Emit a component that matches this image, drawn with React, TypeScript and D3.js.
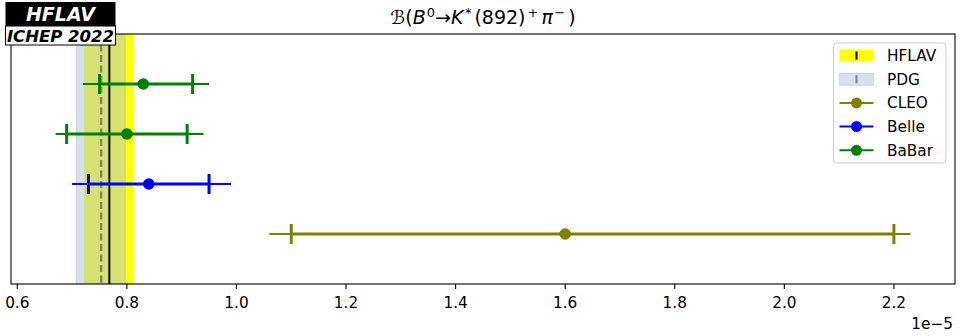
import React from 'react';
import * as d3 from 'd3';

// Measurements (units of 1e-5), rows from top
const experiments = ['BaBar', 'BaBar', 'Belle', 'CLEO'];
const values = [0.83, 0.80, 0.84, 1.60];
const statLo = [0.75, 0.69, 0.73, 1.10];
const statHi = [0.92, 0.91, 0.95, 2.20];
const totLo = [0.72, 0.67, 0.70, 1.06];
const totHi = [0.95, 0.94, 0.99, 2.23];

const hflav = { value: 0.768, lo: 0.722, hi: 0.812 };
const pdg = { value: 0.753, lo: 0.708, hi: 0.797 };

const xTicks = [0.6, 0.8, 1.0, 1.2, 1.4, 1.6, 1.8, 2.0, 2.2];
const legendLabels = ['HFLAV', 'PDG', 'CLEO', 'Belle', 'BaBar'];

const colorOf: Record<string, string> = {
  BaBar: '#008000',
  Belle: '#0000ff',
  CLEO: '#808000',
};

const W = 960;
const H = 336;
const L = 11, R = 955, T = 34, B = 284;
const FONT = '"DejaVu Sans", sans-serif';
const FS = 15.3;

export default function App() {
  const x = d3.scaleLinear().domain([0.5885, 2.3115]).range([L, R]);
  const y = d3.scaleLinear().domain([0, 5]).range([T, B]);

  const legendY = (i: number) => 55.5 + i * 23.7;
  const sup = 13;

  return (
    <svg width={W} height={H} style={{ position: 'absolute', left: 0, top: 0, background: '#fff' }} fontFamily={FONT}>
      <rect x={0} y={0} width={W} height={H} fill="#fff" />
      <defs>
        <clipPath id="plotclip">
          <rect x={L} y={T} width={R - L} height={B - T} />
        </clipPath>
      </defs>
      <g clipPath="url(#plotclip)">
        {/* HFLAV band */}
        <rect x={x(hflav.lo)} y={T} width={x(hflav.hi) - x(hflav.lo)} height={B - T} fill="#ffff00" />
        {/* PDG band */}
        <rect x={x(pdg.lo)} y={T} width={x(pdg.hi) - x(pdg.lo)} height={B - T} fill="rgb(176,196,222)" fillOpacity={0.5} stroke="rgb(176,196,222)" strokeOpacity={0.6} strokeWidth={1} />
        <line x1={x(hflav.value)} x2={x(hflav.value)} y1={T} y2={B} stroke="#000" strokeWidth={2} />
        <line x1={x(pdg.value)} x2={x(pdg.value)} y1={T} y2={B} stroke="#808080" strokeWidth={2.4} strokeDasharray="7,3.5" />
        {experiments.map((e, i) => {
          const c = colorOf[e];
          const yy = y(i + 1);
          return (
            <g key={i}>
              <line x1={x(totLo[i])} x2={x(totHi[i])} y1={yy} y2={yy} stroke={c} strokeWidth={2} />
              <line x1={x(statLo[i])} x2={x(statHi[i])} y1={yy} y2={yy} stroke={c} strokeWidth={3} />
              <line x1={x(statLo[i])} x2={x(statLo[i])} y1={yy - 10} y2={yy + 10} stroke={c} strokeWidth={3} />
              <line x1={x(statHi[i])} x2={x(statHi[i])} y1={yy - 10} y2={yy + 10} stroke={c} strokeWidth={3} />
              <circle cx={x(values[i])} cy={yy} r={5.8} fill={c} />
            </g>
          );
        })}
      </g>
      {/* frame */}
      <rect x={L} y={T} width={R - L} height={B - T} fill="none" stroke="#000" strokeWidth={1.1} />
      {/* x axis */}
      {xTicks.map((t) => (
        <g key={t}>
          <line x1={x(t)} x2={x(t)} y1={B} y2={B + 4.9} stroke="#000" strokeWidth={1.1} />
          <text x={x(t)} y={308} fontSize={FS} textAnchor="middle" fill="#000">
            {t.toFixed(1)}
          </text>
        </g>
      ))}
      <text x={953} y={329} fontSize={FS} textAnchor="end" fill="#000">1e−5</text>

      {/* title */}
      <text x={(L + R) / 2} y={24} fontSize={19} textAnchor="middle" fill="#000">
        <tspan>ℬ(</tspan>
        <tspan fontStyle="italic">B</tspan>
        <tspan fontSize={sup} dy={-7} dx={1}>0</tspan>
        <tspan dy={7}>→</tspan>
        <tspan fontStyle="italic">K</tspan>
        <tspan fontSize={sup} dy={-7} dx={1.5}>*</tspan>
        <tspan dy={7} dx={3}>(892)</tspan>
        <tspan fontSize={sup} dy={-7} dx={2}>+</tspan>
        <tspan fontStyle="italic" dy={7} dx={3}>π</tspan>
        <tspan fontSize={sup} dy={-7} dx={1.5}>−</tspan>
        <tspan dy={7} dx={3}>)</tspan>
      </text>

      {/* logo */}
      <rect x={5.5} y={2} width={110} height={24} fill="#000" />
      <text x={60.5} y={21} fontSize={19} fontWeight="bold" fontStyle="italic" fill="#fff" textAnchor="middle">HFLAV</text>
      <rect x={5.5} y={26} width={110} height={19} fill="#fff" stroke="#000" strokeWidth={1} />
      <text x={60.5} y={42} fontSize={16.5} fontWeight="bold" fontStyle="italic" fill="#000" textAnchor="middle">ICHEP 2022</text>

      {/* legend */}
      <rect x={833.5} y={43} width={112.5} height={120} rx={3} fill="#fff" fillOpacity={0.8} stroke="#cccccc" strokeWidth={1} />
      {legendLabels.map((lab, i) => {
        const ly = legendY(i);
        let handle;
        if (lab === 'HFLAV') {
          handle = (
            <g>
              <rect x={839.5} y={ly - 6} width={34} height={12} fill="#ffff00" />
              <line x1={856.5} x2={856.5} y1={ly - 4} y2={ly + 4} stroke="#000" strokeWidth={2} />
            </g>
          );
        } else if (lab === 'PDG') {
          handle = (
            <g>
              <rect x={839.5} y={ly - 6} width={34} height={12} fill="rgb(176,196,222)" fillOpacity={0.5} stroke="rgb(176,196,222)" strokeOpacity={0.6} />
              <line x1={856.5} x2={856.5} y1={ly - 4} y2={ly + 4} stroke="#808080" strokeWidth={2} />
            </g>
          );
        } else {
          const c = colorOf[lab];
          handle = (
            <g>
              <line x1={839.5} x2={873.5} y1={ly} y2={ly} stroke={c} strokeWidth={2} />
              <circle cx={856.5} cy={ly} r={5.5} fill={c} />
            </g>
          );
        }
        return (
          <g key={lab}>
            {handle}
            <text x={887} y={ly + 5.5} fontSize={FS} fill="#000">{lab}</text>
          </g>
        );
      })}
    </svg>
  );
}
